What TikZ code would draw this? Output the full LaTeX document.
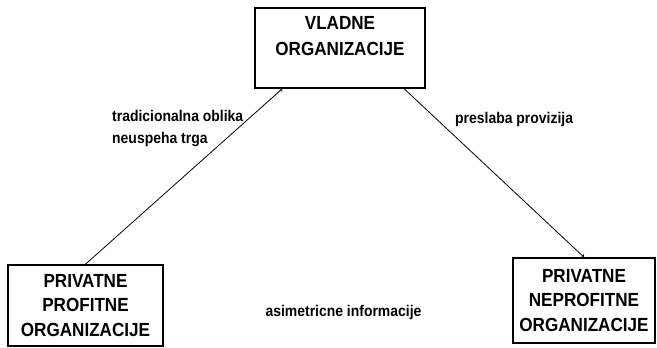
\documentclass[tikz,border=0pt]{standalone}
\usepackage{fontspec}
\setmainfont{Liberation Sans}
\newfontfamily\scanfont[FakeStretch=0.9]{Liberation Sans}
\usetikzlibrary{positioning,calc}
\tikzset{
  orgbox/.style   = {draw, line width=1.6pt, inner sep=0pt},
  orgtext/.style  = {align=center, font=\scanfont\fontsize{19}{24.5}\selectfont\bfseries, inner sep=0pt},
  edgetext/.style = {font=\scanfont\fontsize{15.5}{22}\selectfont\bfseries, inner sep=0pt},
  link/.style     = {line width=0.8pt, ->}
}
\begin{document}
\begin{tikzpicture}[x=1pt, y=1pt]
        \useasboundingbox (0,0) rectangle (657,348);
        \node[orgbox, minimum width=170pt, minimum height=80pt] (vlada)  at (340,300)   {};
        \node[orgtext, below=9pt of vlada.north] (vladatext) {VLADNE\\[2pt]ORGANIZACIJE};
        \node[orgbox, minimum width=155pt, minimum height=81pt, orgtext] (profit)    at (85.5,42.5) {PRIVATNE\\PROFITNE\\ORGANIZACIJE};
        \node[orgbox, minimum width=142pt, minimum height=85pt, orgtext] (neprofit)  at (584,47.5)  {PRIVATNE\\NEPROFITNE\\ORGANIZACIJE};
        \coordinate (vladaleft)  at ($(vlada.south west)+(28,0)$);
        \coordinate (vladaright) at ($(vlada.south west)+(150,0)$);
        \draw[link] (profit.north) -- (vladaleft);
        \draw[link] (vladaright)   -- (neprofit.north);
        \node[edgetext, align=left, anchor=west] (trg)      at (112,219)   {tradicionalna oblika\\neuspeha trga};
        \node[edgetext, anchor=west]             (provizija) at (455,229)  {preslaba provizija};
        \node[edgetext]                          (info)      at (343.5,36) {asimetricne informacije};
\end{tikzpicture}
\end{document}
